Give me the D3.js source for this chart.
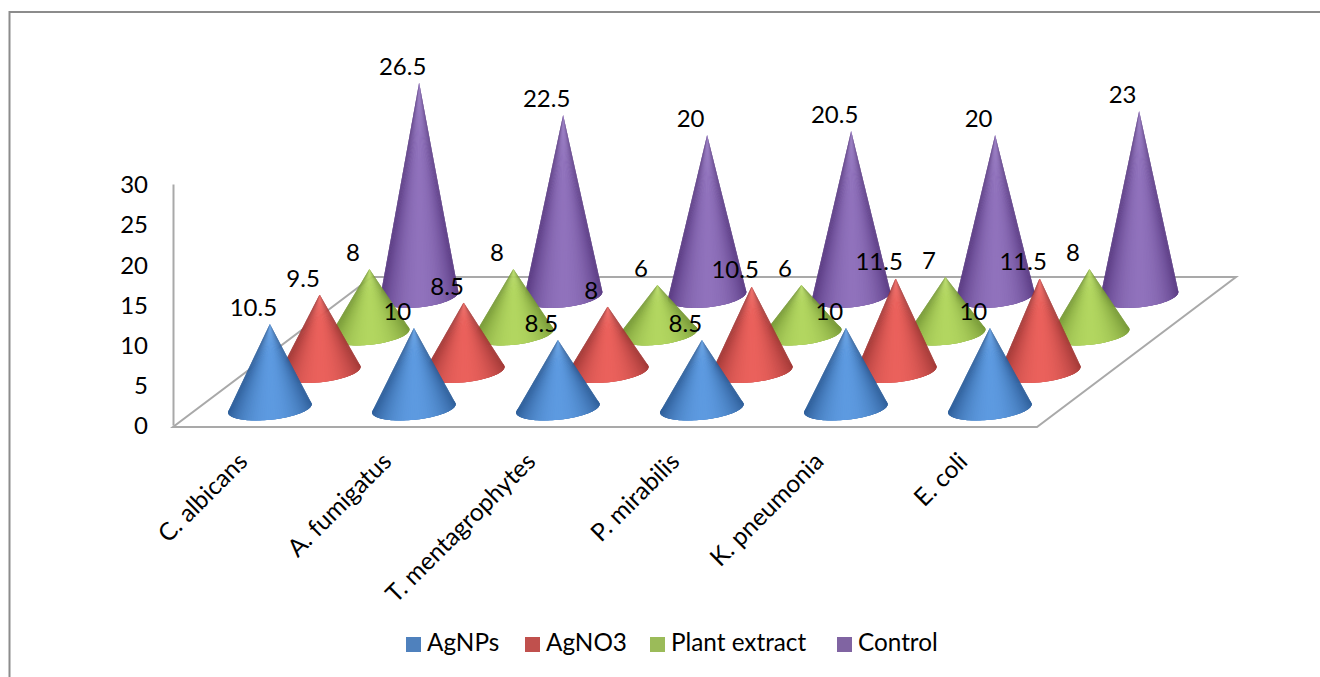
<!DOCTYPE html>
<html>
<head>
<meta charset="utf-8">
<script src="https://cdn.jsdelivr.net/npm/d3@7"></script>
<style>
  body { margin: 0; background: #fff; }
  text { font-family: Lato, sans-serif; fill: #000; }
</style>
</head>
<body>
<div id="chart"></div>
<script>
// data
const categories = ["C. albicans", "A. fumigatus", "T. mentagrophytes", "P. mirabilis", "K. pneumonia", "E. coli"];
const seriesNames = ["AgNPs", "AgNO3", "Plant extract", "Control"];
const agnps = [10.5, 10, 8.5, 8.5, 10, 10];
const agno3 = [9.5, 8.5, 8, 10.5, 11.5, 11.5];
const plantExtract = [8, 8, 6, 6, 7, 8];
const control = [26.5, 22.5, 20, 20.5, 20, 23];
const yTicks = [0, 5, 10, 15, 20, 25, 30];
const seriesValues = [agnps, agno3, plantExtract, control];

// colours: legend swatch, cone edge, cone middle
const swatch = ["#4f81bd", "#c0504d", "#9bbb59", "#8064a2"];
const coneDark = ["#2f5f9a", "#a23937", "#789a38", "#593a82"];
const coneLight = ["#5d9ae0", "#ea615c", "#b2d660", "#9072bc"];

const svg = d3.select("#chart").append("svg")
  .attr("width", 1320)
  .attr("height", 677);

// chart frame, right and bottom edges run off the picture
svg.append("path")
  .attr("d", "M9.5,700V12H1330")
  .attr("fill", "none")
  .attr("stroke", "#8c8c8c")
  .attr("stroke-width", 2);

const y = d3.scaleLinear().domain([0, 30]).range([425, 184]);
const x = d3.scaleBand().domain(categories).range([173, 1037]);
const depth = d3.scaleBand().domain(seriesNames).range([0, 1]);
const radius = d3.scaleLinear().domain([0, 1]).range([42.5, 39]);

// the floor is a sheared rectangle, depth 1 sits this far up and right
const floorY = 427;
const shearX = 199, shearY = 150;
const ry = 11.5;
const tilt = -6 * Math.PI / 180;

svg.append("path")
  .attr("d", `M173,${floorY}H1037L${1037 + shearX},${floorY - shearY}H${173 + shearX}Z`)
  .attr("fill", "#fff")
  .attr("stroke", "#a9a9a9")
  .attr("stroke-width", 2);

const yAxis = svg.append("g")
  .attr("transform", "translate(173,0)")
  .call(d3.axisLeft(y).tickValues(yTicks).tickSize(0).tickPadding(25));
yAxis.select(".domain").attr("stroke", "#a9a9a9").attr("stroke-width", 2);
yAxis.selectAll("text").attr("y", 1).style("font-size", "24px");

// one cone: base ellipse plus thin slices shaded by angle round the axis
const cones = svg.append("g");
const labels = [];
d3.range(seriesNames.length).reverse().forEach(s => {
  const t = depth(seriesNames[s]) + depth.bandwidth() / 2;
  const shade = d3.interpolateRgb(coneDark[s], coneLight[s]);
  categories.forEach((c, i) => {
    const v = seriesValues[s][i];
    const cx = x(c) + x.bandwidth() / 2 + t * shearX;
    const cy = floorY - t * shearY;
    const apexY = cy - (y(0) - y(v));
    const rx = radius(t);
    const g = cones.append("g").attr("class", "cone");

    g.append("ellipse")
      .attr("rx", rx).attr("ry", ry)
      .attr("transform", `translate(${cx},${cy}) rotate(-6)`)
      .attr("fill", coneDark[s]);

    const pt = a => {
      const ex = rx * Math.cos(a), ey = ry * Math.sin(a);
      return [cx + ex * Math.cos(tilt) - ey * Math.sin(tilt),
              cy + ex * Math.sin(tilt) + ey * Math.cos(tilt)];
    };
    const n = 60;
    const ang = k => -0.06 + (Math.PI + 0.12) * Math.min(k, n) / n;
    // each slice also covers the next one so no seams show through
    g.selectAll("path").data(d3.range(n)).join("path")
      .attr("d", k => `M${cx},${apexY}L${pt(ang(k))}L${pt(ang(k + 1))}L${pt(ang(k + 2))}Z`)
      .attr("fill", k => shade(Math.pow(Math.sin(Math.PI * (k + 0.5) / n), 1.8)));

    labels.push({ v, x: cx - 16.5, y: apexY - 14 });
  });
});

// value labels go over every cone
svg.append("g").selectAll("text").data(labels).join("text")
  .attr("x", d => d.x)
  .attr("y", d => d.y)
  .attr("text-anchor", "middle")
  .attr("dominant-baseline", "middle")
  .style("font-size", "24px")
  .text(d => d.v);

// category labels at 45 degrees
svg.append("g").selectAll("text").data(categories).join("text")
  .attr("transform", d => `translate(${x(d) + x.bandwidth() / 2 + 4},${463}) rotate(-45)`)
  .attr("text-anchor", "end")
  .style("font-size", "24.5px")
  .text(d => d);

// legend
const legendX = [406, 525, 650, 837];
const legend = svg.append("g").selectAll("g").data(seriesNames).join("g")
  .attr("transform", (d, i) => `translate(${legendX[i]},637)`);
legend.append("rect")
  .attr("width", 15).attr("height", 15)
  .attr("fill", (d, i) => swatch[i]);
legend.append("text")
  .attr("x", 21).attr("y", 8)
  .attr("dominant-baseline", "middle")
  .style("font-size", "24.3px")
  .text(d => d);
</script>
</body>
</html>
